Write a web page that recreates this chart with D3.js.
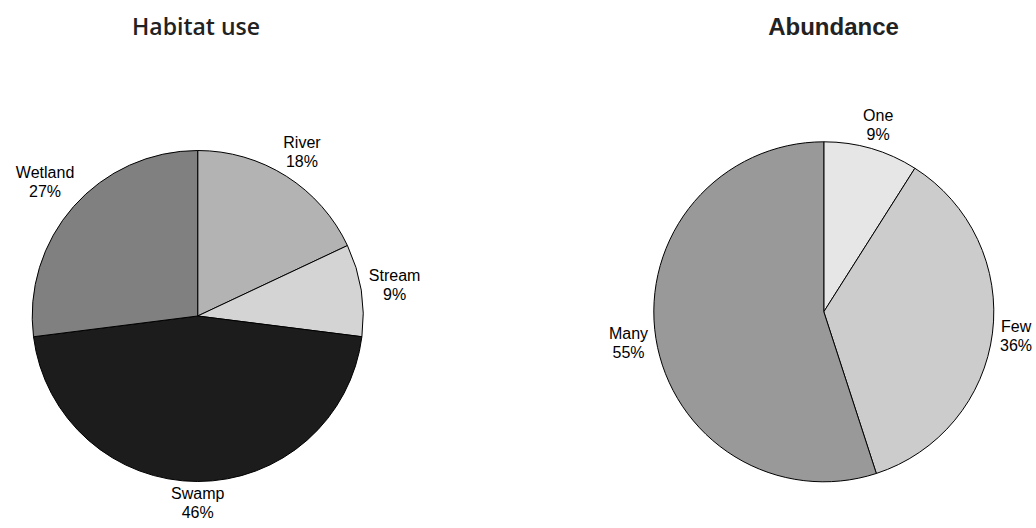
<!DOCTYPE html>
<html>
<head>
<meta charset="utf-8">
<script src="https://cdn.jsdelivr.net/npm/d3@7"></script>
<style>
  html, body { margin: 0; padding: 0; background: #fff; }
  svg { display: block; }
</style>
</head>
<body>
<svg id="chart" width="1036" height="528"></svg>
<script>
// ---- data ----
const habitatCategories = ["River", "Stream", "Swamp", "Wetland"];
const habitatValues = [18, 9, 46, 27];
const habitatColors = ["#b3b3b3", "#d4d4d4", "#1c1c1c", "#808080"];

const abundanceCategories = ["One", "Few", "Many"];
const abundanceValues = [9, 36, 55];
const abundanceColors = ["#e6e6e6", "#cccccc", "#999999"];

const titles = ["Habitat use", "Abundance"];

// ---- layout ----
const svg = d3.select("#chart");
const panels = [
  { title: titles[0], cats: habitatCategories, vals: habitatValues, cols: habitatColors,
    cx: 197.7, cy: 316, r: 165.5, tx: 196, titleFont: "'Open Sans', sans-serif", titleWeight: 600, titleSize: 23 },
  { title: titles[1], cats: abundanceCategories, vals: abundanceValues, cols: abundanceColors,
    cx: 823.8, cy: 311.8, r: 170, tx: 833.5, titleFont: "'Liberation Sans', Arial, sans-serif", titleWeight: 700, titleSize: 24 }
];

const labelSize = 16;
const lineH = 19;
const gap = 6;

panels.forEach(p => {
  const g = svg.append("g").attr("transform", `translate(${p.cx},${p.cy})`);
  const pie = d3.pie().sort(null).value(d => d.v);
  const data = p.cats.map((c, i) => ({ c, v: p.vals[i], col: p.cols[i] }));
  const arcs = pie(data);
  const arc = d3.arc().innerRadius(0).outerRadius(p.r);

  g.selectAll("path").data(arcs).enter().append("path")
    .attr("d", arc)
    .attr("fill", d => d.data.col)
    .attr("stroke", "#000")
    .attr("stroke-width", 1);

  const total = d3.sum(p.vals);
  const fmt = v => Math.round(v / total * 100) + "%";
  const capH = labelSize * 0.716;

  arcs.forEach(a => {
    const t = g.append("text")
      .attr("font-family", "'Liberation Sans', Arial, sans-serif")
      .attr("font-size", labelSize)
      .attr("fill", "#000")
      .attr("text-anchor", "middle");
    t.append("tspan").attr("x", 0).attr("dy", 0).text(a.data.c);
    t.append("tspan").attr("x", 0).attr("dy", lineH).text(fmt(a.data.v));
    const w = t.node().getBBox().width;
    const h = capH + lineH;
    const theta = (a.startAngle + a.endAngle) / 2;
    const s = Math.sin(theta), c = Math.cos(theta);
    const dist = p.r + gap + (w / 2) * Math.abs(s) + (h / 2) * Math.abs(c);
    const lx = dist * s, ly = -dist * c;
    const blockMid = (-capH + lineH) / 2;
    t.attr("transform", `translate(${lx},${ly - blockMid})`);
  });

  svg.append("text")
    .attr("x", p.tx)
    .attr("y", 35)
    .attr("text-anchor", "middle")
    .attr("font-family", p.titleFont)
    .attr("font-weight", p.titleWeight)
    .attr("font-size", p.titleSize)
    .attr("fill", "#222")
    .text(p.title);
});
</script>
</body>
</html>
